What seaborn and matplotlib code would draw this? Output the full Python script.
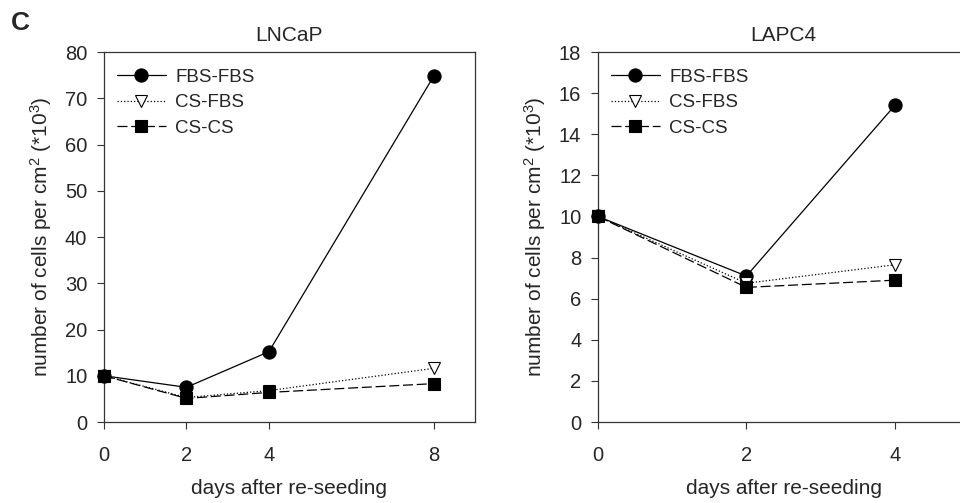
import pandas as pd
import matplotlib
matplotlib.use("Agg")
import matplotlib.pyplot as plt
import seaborn as sns

# data (cells per cm2, *10^3)
lncap_days = [0, 2, 4, 8]
lncap_fbs_fbs = [10.0, 7.5, 15.2, 74.8]
lncap_cs_fbs = [10.0, 5.3, 6.8, 11.6]
lncap_cs_cs = [10.0, 5.1, 6.4, 8.3]

lapc4_days = [0, 2, 4]
lapc4_fbs_fbs = [10.0, 7.1, 15.4]
lapc4_cs_fbs = [10.0, 6.75, 7.65]
lapc4_cs_cs = [10.0, 6.55, 6.9]

series_names = ["FBS-FBS", "CS-FBS", "CS-CS"]

sns.set_style("ticks")
plt.rcParams['font.family'] = ['Liberation Sans', 'DejaVu Sans']
plt.rcParams['mathtext.fontset'] = 'custom'
plt.rcParams['mathtext.rm'] = 'Liberation Sans'
plt.rcParams['mathtext.it'] = 'Liberation Sans:italic'

styles = {
    "FBS-FBS": dict(marker="o", linestyle="-", markersize=9.5, markerfacecolor="black"),
    "CS-FBS": dict(marker="v", linestyle=":", markersize=8.5, markerfacecolor="white"),
    "CS-CS": dict(marker="s", linestyle=(0, (8, 3)), markersize=8.2, markerfacecolor="black"),
}


def draw_panel(ax, days, values, title, ymax, ystep, xmax, xticks):
    for name, vals in zip(series_names, values):
        df = pd.DataFrame({"day": days, "cells": vals})
        st = styles[name]
        sns.lineplot(x="day", y="cells", data=df, ax=ax, color="black",
                     linewidth=0.9, marker=st["marker"], linestyle=st["linestyle"],
                     markersize=st["markersize"], markerfacecolor=st["markerfacecolor"],
                     markeredgecolor="black", markeredgewidth=0.8, label=name,
                     clip_on=False, zorder=3)
    ax.set_xlim(0, xmax)
    ax.set_ylim(0, ymax)
    ax.set_xticks(xticks)
    ax.set_yticks(range(0, ymax + 1, ystep))
    ax.tick_params(axis="both", direction="out", length=5, width=0.8,
                   labelsize=14.5, color="#333333", pad=7)
    ax.tick_params(axis="x", pad=12)
    for side in ["left", "bottom", "top", "right"]:
        ax.spines[side].set_color("#333333")
        ax.spines[side].set_linewidth(0.9)
    ax.set_title(title, fontsize=15, pad=8)
    ax.set_xlabel("days after re-seeding", fontsize=15, labelpad=10)
    ax.set_ylabel("number of cells per cm$^2$ (*10$^3$)", fontsize=15, labelpad=8)
    ax.legend(loc="upper left", frameon=False, fontsize=13.5, handlelength=2.6,
              handletextpad=0.5, labelspacing=0.45, borderaxespad=0.0, borderpad=0.0,
              bbox_to_anchor=(0.035, 0.955))


fig = plt.figure(figsize=(9.6, 5.03), dpi=100)
ax1 = fig.add_axes([0.1083, 0.161, 0.3865, 0.7356])
ax2 = fig.add_axes([0.6229, 0.161, 0.3865, 0.7356])

draw_panel(ax1, lncap_days, [lncap_fbs_fbs, lncap_cs_fbs, lncap_cs_cs],
           "LNCaP", 80, 10, 9, [0, 2, 4, 8])
draw_panel(ax2, lapc4_days, [lapc4_fbs_fbs, lapc4_cs_fbs, lapc4_cs_cs],
           "LAPC4", 18, 2, 5, [0, 2, 4])

fig.text(0.011, 0.978, "C", fontsize=19, fontweight="bold", va="top")

fig.savefig("out.png", dpi=100)
